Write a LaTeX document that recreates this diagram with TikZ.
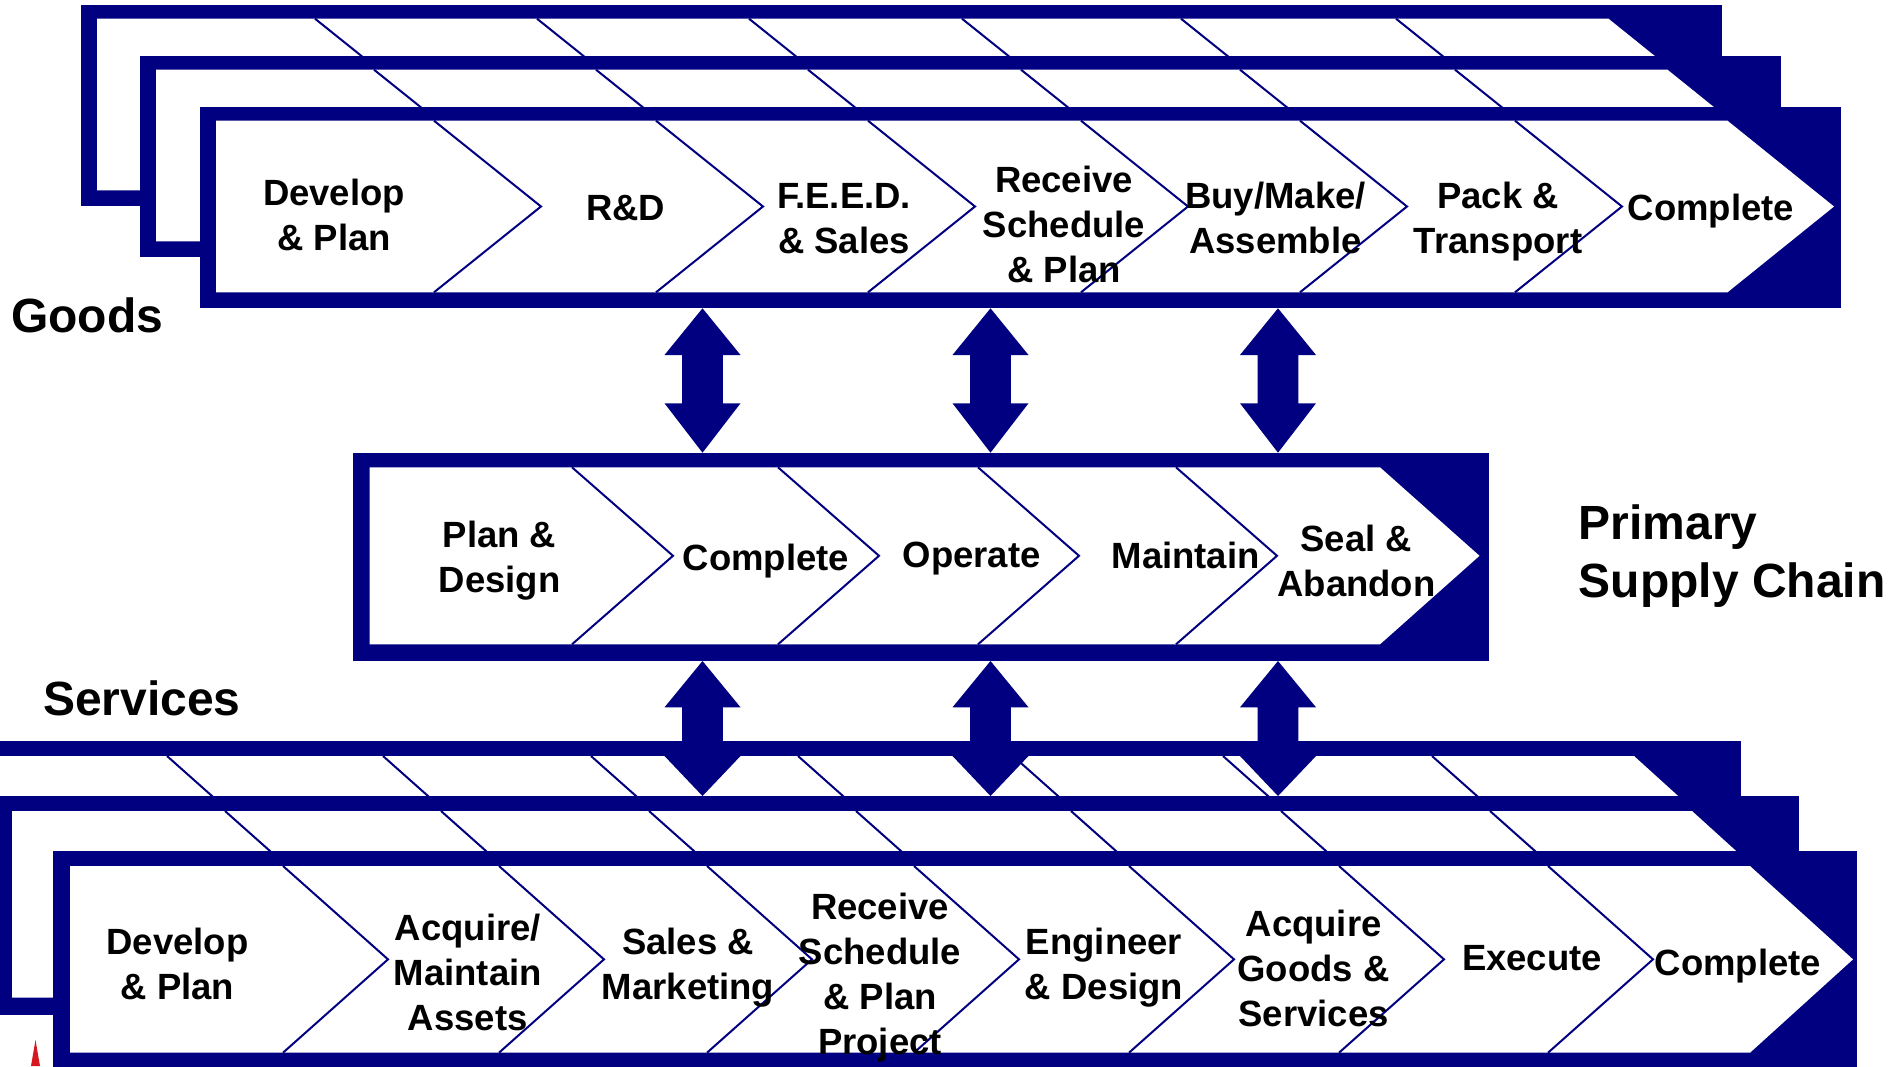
\documentclass[tikz,border=0pt]{standalone}
\usepackage{fontspec}
\setmainfont{Liberation Sans}
\usetikzlibrary{calc}

\definecolor{navy}{RGB}{0,0,128}
\definecolor{logored}{RGB}{214,24,32}

\newcommand{\stagefont}{\fontsize{36.5}{45}\selectfont\bfseries}
\newcommand{\titlefont}{\fontsize{48}{57.7}\selectfont\bfseries}
\newcommand{\stagelines}[1]{\begin{tabular}[t]{@{}c@{}}#1\end{tabular}}

% sheet: navy frame with a white chevron band
% #1 left, #2 top, #3 right, #4 bottom (outer); #5 inner left, #6 inner top,
% #7 inner bottom, #8 x where the band starts to narrow, #9 x of the band tip
\newcommand{\stagepanel}[9]{%
  \fill[frame] (#1,#2) rectangle (#3,#4);
  \fill[sheet] (#5,#6) -- (#8,#6) -- (#9,{(#6+#7)/2}) -- (#8,#7) -- (#5,#7) -- cycle;}

% chevron separators: #1 inner top, #2 inner bottom, #3 depth, #4 list of top x
\newcommand{\stagedividers}[4]{%
  \foreach \t in {#4}{\draw[divider] (\t,#1) -- ({\t+#3},{(#1+#2)/2}) -- (\t,#2);}}

% double-headed block arrow between two named tips
% #1 upper tip, #2 lower tip, #3 upper head length, #4 lower head length
\newcommand{\twoway}[4]{%
  \fill[link] (#1) -- ($(#1)+(38,#3)$) -- ($(#1)+(20.3,#3)$) -- ($(#2)+(20.3,-#4)$)
    -- ($(#2)+(38,-#4)$) -- (#2) -- ($(#2)+(-38,-#4)$) -- ($(#2)+(-20.3,-#4)$)
    -- ($(#1)+(-20.3,#3)$) -- ($(#1)+(-38,#3)$) -- cycle;}

\begin{document}
\begin{tikzpicture}[x=1pt,y=-1pt,
  frame/.style={fill=navy},
  sheet/.style={fill=white},
  divider/.style={draw=navy,line width=2pt,line join=miter},
  link/.style={fill=navy},
  stage/.style={font=\stagefont,inner sep=0pt,anchor=base,text=black},
  title/.style={font=\titlefont,inner sep=0pt,anchor=base west,text=black}]

\useasboundingbox (0,0) rectangle (1904,1066);
\clip (0,0) rectangle (1904,1066);
\fill[white] (0,0) rectangle (1904,1066);

% ---- goods: three stacked sheets ----
\foreach \dx/\dy in {-119/-102,-60/-51,0/0}{
  \begin{scope}[shift={(\dx,\dy)}]
    \stagepanel{199.7}{106.7}{1841}{308.3}{216.2}{120.7}{292.3}{1727.5}{1834}
    \stagedividers{120.7}{292.3}{107}{434,656,868,1081,1300,1515}
  \end{scope}
}

% ---- primary supply chain ----
\stagepanel{352.8}{452.7}{1488.7}{660.7}{369.6}{467.3}{644.3}{1380}{1479.5}
\stagedividers{467.3}{644.3}{101}{572,778,978,1176}

% ---- services: three stacked sheets ----
\foreach \dx/\dy in {-116/-110,-58/-55,0/0}{
  \begin{scope}[shift={(\dx,\dy)}]
    \stagepanel{52.8}{851}{1856.6}{1070}{70}{866}{1052.7}{1750}{1853}
    \stagedividers{866}{1052.7}{105}{283,499,707,914,1129,1339,1548}
  \end{scope}
}

% ---- links between the chains ----
\coordinate (ga1) at (702.5,308.3);  \coordinate (pa1) at (702.5,452.7);
\coordinate (ga2) at (990.5,308.3);  \coordinate (pa2) at (990.5,452.7);
\coordinate (ga3) at (1278,308.3);   \coordinate (pa3) at (1278,452.7);
\coordinate (pb1) at (702.5,661);    \coordinate (sa1) at (702.5,796);
\coordinate (pb2) at (990.5,661);    \coordinate (sa2) at (990.5,796);
\coordinate (pb3) at (1278,661);     \coordinate (sa3) at (1278,796);
\twoway{ga1}{pa1}{46.7}{49.4}
\twoway{ga2}{pa2}{46.7}{49.4}
\twoway{ga3}{pa3}{46.7}{49.4}
\twoway{pb1}{sa1}{46.3}{40}
\twoway{pb2}{sa2}{46.3}{40}
\twoway{pb3}{sa3}{46.3}{40}

% ---- goods stages ----
\node[stage] (g1) at (334,205)    {\stagelines{Develop\\\& Plan}};
\node[stage] (g2) at (625.8,220.7){R\&D};
\node[stage] (g3) at (844,208.3)  {\stagelines{F.E.E.D.\\\& Sales}};
\node[stage] (g4) at (1064,192.7) {\stagelines{Receive\\Schedule\\\& Plan}};
\node[stage] (g5) at (1275.5,208.3){\stagelines{Buy/Make/\\Assemble}};
\node[stage] (g6) at (1498,208.3) {\stagelines{Pack \&\\Transport}};
\node[stage] (g7) at (1711,220)   {Complete};

% ---- primary stages ----
\node[stage] (p1) at (499.5,547)  {\stagelines{Plan \&\\Design}};
\node[stage] (p2) at (766,570)    {Complete};
\node[stage] (p3) at (971.6,567.7){Operate};
\node[stage] (p4) at (1185.6,568.3){Maintain};
\node[stage] (p5) at (1356.4,551.7){\stagelines{Seal \&\\Abandon}};

% ---- services stages ----
\node[stage] (s1) at (177.4,954)  {\stagelines{Develop\\\& Plan}};
\node[stage] (s2) at (467.8,940)  {\stagelines{Acquire/\\Maintain\\Assets}};
\node[stage] (s3) at (688,954)    {\stagelines{Sales \&\\Marketing}};
\node[stage] (s4) at (880,919.3)  {\stagelines{Receive\\Schedule\\\& Plan\\Project}};
\node[stage] (s5) at (1104,954)   {\stagelines{Engineer\\\& Design}};
\node[stage] (s6) at (1313.6,936) {\stagelines{Acquire\\Goods \&\\Services}};
\node[stage] (s7) at (1532,970.7) {Execute};
\node[stage] (s8) at (1737.8,975) {Complete};

% ---- chain titles ----
\node[title] (goods) at (11,332.3) {Goods};
\node[title] (services) at (43,715) {Services};
\node[title] (primary) at (1578.6,539.3) {\begin{tabular}[t]{@{}l@{}}Primary\\Supply Chain\end{tabular}};

% corner of the logo
\fill[logored] (31,1066) -- (35.5,1040) -- (40,1066) -- cycle;
\end{tikzpicture}
\end{document}
